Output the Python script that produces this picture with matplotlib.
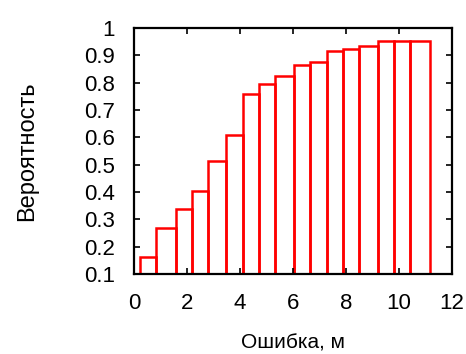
import numpy as np
import matplotlib
matplotlib.use('Agg')
import matplotlib.pyplot as plt

plt.rcParams['font.family'] = ['Liberation Sans', 'DejaVu Sans']

# края интервалов гистограммы (ошибка, м) и накопленная вероятность
bin_edges = [0.23, 0.84, 1.56, 2.17, 2.78, 3.48, 4.11, 4.72, 5.32, 6.04,
             6.65, 7.27, 7.87, 8.48, 9.20, 9.80, 10.42, 11.15]
probability = [0.161, 0.267, 0.337, 0.405, 0.513, 0.610, 0.757, 0.796, 0.826,
               0.864, 0.877, 0.914, 0.924, 0.933, 0.952, 0.952, 0.952]

x_ticks = [0, 2, 4, 6, 8, 10, 12]
y_ticks = [0.1, 0.2, 0.3, 0.4, 0.5, 0.6, 0.7, 0.8, 0.9, 1.0]
y_tick_labels = ['0.1', '0.2', '0.3', '0.4', '0.5', '0.6', '0.7', '0.8', '0.9', '1']

fig = plt.figure(figsize=(4.66, 3.54), dpi=100)
ax = fig.add_axes([0.288, 0.226, 0.682, 0.695])

edges = np.array(bin_edges)
ax.bar(edges[:-1], np.array(probability) - 0.1, width=np.diff(edges), bottom=0.1,
       align='edge', facecolor='none', edgecolor='red', linewidth=1.8)

ax.set_xlim(0, 12)
ax.set_ylim(0.1, 1.0)
ax.set_xticks(x_ticks)
ax.set_yticks(y_ticks)
ax.set_yticklabels(y_tick_labels)

ax.tick_params(direction='in', length=4, width=1.2, top=True, right=True,
               labelsize=16)
ax.tick_params(axis='y', pad=14)
ax.tick_params(axis='x', pad=14)
for s in ax.spines.values():
    s.set_linewidth(1.6)

ax.set_xlabel('Ошибка, м', fontsize=15, labelpad=14)
ax.set_ylabel('Вероятность', fontsize=17, labelpad=33)

fig.savefig('out.png', dpi=100)
